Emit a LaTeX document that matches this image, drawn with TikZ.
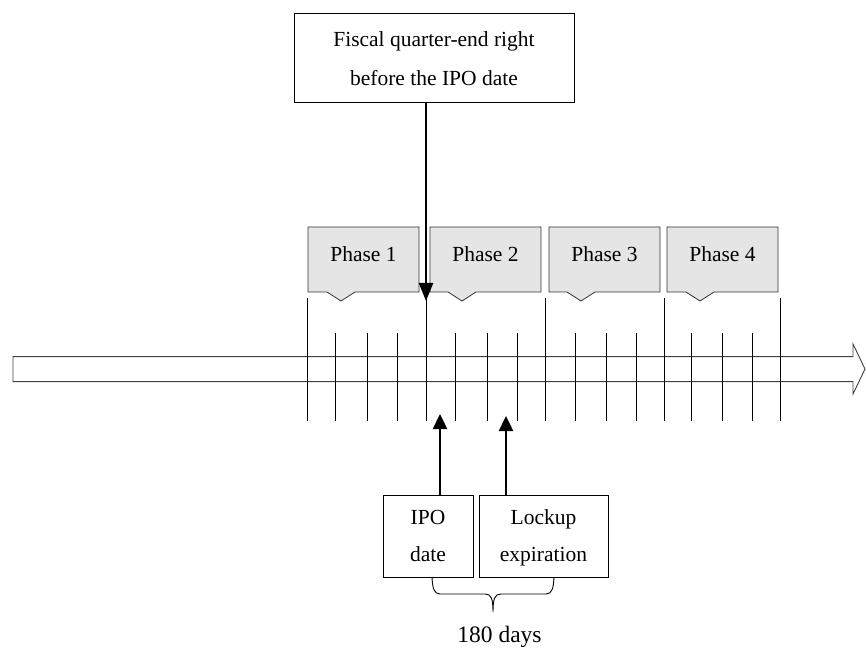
\documentclass[tikz,border=0pt]{standalone}
\usepackage{fontspec}
\setmainfont{Liberation Serif}
\usetikzlibrary{arrows.meta}

\begin{document}
\begin{tikzpicture}[x=1pt, y=1pt,
  every node/.style={font=\fontsize{21.5}{37}\selectfont},
  textbox/.style={draw, line width=1pt, align=center, inner sep=0pt, text depth=0pt},
  phasebox/.style={draw=black!80, fill=black!10, line width=0.8pt},
  tick/.style={line width=0.9pt},
  pointer/.style={line width=2.4pt, -{Triangle[width=14pt,length=15pt]}}]
  \useasboundingbox (0,0) rectangle (866,648);

  % time line
  \draw[draw=black!75, line width=0.9pt] (13,266.3) -- (853,266.3) -- (853,254) -- (865,279)
    -- (853,304) -- (853,291.3) -- (13,291.3) -- cycle;

  % ticks
  \foreach \x in {307,426,545,664,780}
    \draw[tick] (\x,227) -- (\x,350);
  \foreach \x in {335,367,397,455,487,517,575,606,636,691,722,752}
    \draw[tick] (\x,227) -- (\x,315);

  % phases
  \foreach \i/\x/\p in {1/308/341, 2/430/462, 3/549/581, 4/667/700} {
    \draw[phasebox] (\x,356) -- (\x,421) -- ({\x+111},421) -- ({\x+111},356)
      -- ({\p+14},356) -- (\p,347) -- ({\p-14},356) -- cycle;
    \node[anchor=base] (phase\i) at ({\x+55.5},386) {Phase \i};
  }

  % quarter-end
  \node[textbox, minimum width=280pt, minimum height=89pt] (fiscal) at (434,589.5)
    {Fiscal quarter-end right\\[2pt]before the IPO date};
  \coordinate (fiscaltip) at (426,347);
  \draw[pointer, -{Triangle[width=14pt,length=18pt]}] (fiscal.south -| fiscaltip) -- (fiscaltip);

  % IPO and lockup
  \node[textbox, minimum width=90pt, minimum height=82pt] (ipo) at (428,112) {IPO\\date};
  \node[textbox, minimum width=129pt, minimum height=82pt] (lockup) at (543.5,112) {Lockup\\expiration};
  \coordinate (ipotip) at (440,234);
  \coordinate (lockuptip) at (506,232);
  \draw[pointer] (ipo.north -| ipotip) -- (ipotip);
  \draw[pointer] (lockup.north -| lockuptip) -- (lockuptip);

  % brace
  \draw[line width=0.9pt] (432,71) .. controls (432.5,60) and (434,54) .. (440,54) -- (485,54)
    .. controls (491,54) and (493,50) .. (493,36) .. controls (493,50) and (495,54) .. (501,54)
    -- (546,54) .. controls (552,54) and (553.5,60) .. (554,71);
  \node[font=\fontsize{23.5}{28}\selectfont, anchor=base] (days) at (499.5,6) {180 days};
\end{tikzpicture}
\end{document}
